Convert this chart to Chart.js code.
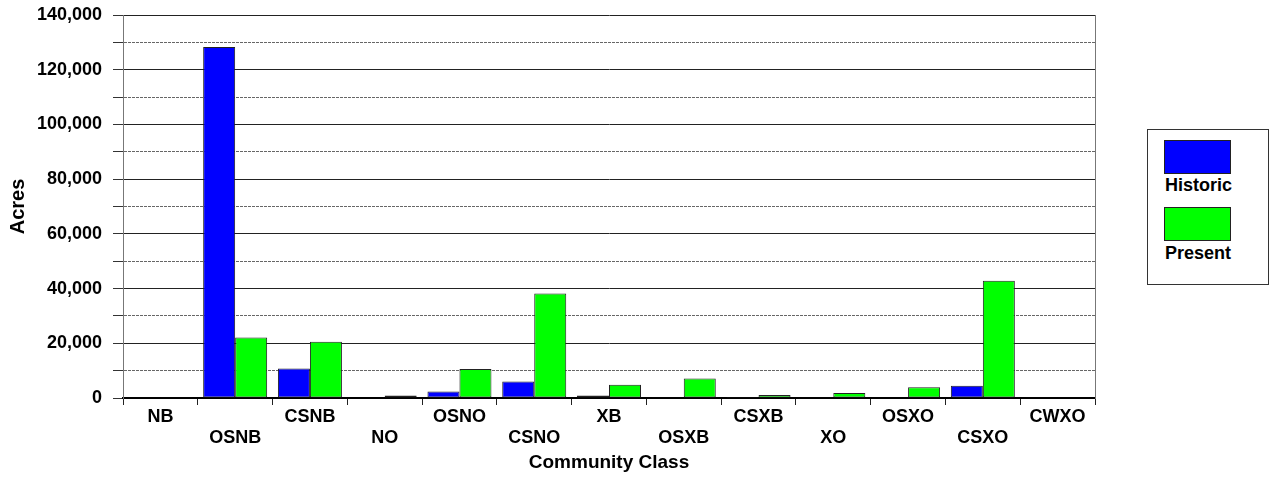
<!DOCTYPE html>
<html>
<head>
<meta charset="utf-8">
<script src="https://cdn.jsdelivr.net/npm/chart.js@4/dist/chart.umd.min.js"></script>
<style>
  html, body { margin: 0; padding: 0; background: #fff; }
  #wrap { position: absolute; left: 0; top: 0; width: 1272px; height: 480px; }
  #legend {
    position: absolute; left: 1147px; top: 129px; width: 120px; height: 154px;
    border: 1px solid #333; background: #fff;
    font: bold 18px "Liberation Sans", Arial, sans-serif; color: #000;
  }
  #legend .sw { position: absolute; left: 16px; width: 65px; height: 32px; border: 1px solid #222; }
  #legend .lb { position: absolute; left: 17px; line-height: 20px; }
</style>
</head>
<body>
<div id="wrap"><canvas id="chart"></canvas></div>
<div id="legend"></div>
<script>
const categories = ['NB', 'OSNB', 'CSNB', 'NO', 'OSNO', 'CSNO', 'XB', 'OSXB', 'CSXB', 'XO', 'OSXO', 'CSXO', 'CWXO'];
const historic = [250, 128300, 10800, 200, 2400, 6000, 900, 100, 400, 100, 150, 4500, 100];
const present = [250, 22100, 20600, 900, 10600, 38200, 4800, 7100, 1100, 1800, 3900, 42900, 100];
const seriesNames = ['Historic', 'Present'];
const seriesColors = ['#0000ff', '#00ff00'];

const font = '"Liberation Sans", Arial, sans-serif';

// alternate labels on two rows like the original
const labels = categories.map((c, i) => (i % 2 ? ['', c] : [c, '']));

const chart = new Chart(document.getElementById('chart'), {
    type: 'bar',
    data: {
        labels: labels,
        datasets: [historic, present].map((vals, i) => ({
            label: seriesNames[i],
            data: vals,
            backgroundColor: seriesColors[i],
            borderColor: '#222',
            borderWidth: 1,
            borderSkipped: false,
            barPercentage: 1,
            categoryPercentage: 0.856,
        }))
    },
    options: {
        responsive: true,
        maintainAspectRatio: false,
        animation: false,
        layout: { padding: { left: 0, top: 15, right: 177, bottom: 0 } },
        plugins: {
            legend: { display: false },
            tooltip: { enabled: false },
        },
        scales: {
            x: {
                grid: {
                    offset: true,
                    drawOnChartArea: false,
                    drawTicks: true,
                    tickLength: 7,
                    tickColor: '#222',
                },
                border: { color: '#000', width: 2 },
                ticks: {
                    color: '#000',
                    padding: 1,
                    maxRotation: 0,
                    autoSkip: false,
                    font: { family: font, size: 18, weight: 'bold', lineHeight: 1.2 },
                },
                title: {
                    display: true,
                    text: 'Community Class',
                    color: '#000',
                    padding: { top: 0, bottom: 6 },
                    font: { family: font, size: 19, weight: 'bold', lineHeight: 1.2 },
                },
                afterFit: (scale) => { scale.height = 82; },
            },
            y: {
                min: 0,
                max: 140000,
                ticks: {
                    stepSize: 10000,
                    autoSkip: false,
                    color: '#000',
                    padding: 11,
                    font: { family: font, size: 18, weight: 'bold' },
                    callback: (v) => (v % 20000 === 0 ? v.toLocaleString('en-US') : ''),
                },
                grid: {
                    color: (ctx) => (ctx.tick && ctx.tick.value % 20000 ? '#666' : '#222'),
                    tickColor: '#333',
                    tickLength: 10,
                },
                border: {
                    color: '#777',
                    dash: (ctx) => (ctx.tick && ctx.tick.value % 20000 ? [3, 1] : []),
                },
                title: {
                    display: true,
                    text: 'Acres',
                    color: '#000',
                    padding: { top: 6, bottom: 0 },
                    font: { family: font, size: 20, weight: 'bold', lineHeight: 1.2 },
                },
                afterFit: (scale) => {
                    scale.width = 123;
                    scale.paddingTop = 0;
                    scale.paddingBottom = 0;
                },
            },
            yRight: {
                position: 'right',
                min: 0,
                max: 140000,
                ticks: { display: false },
                grid: { display: false, drawTicks: false },
                border: { color: '#777', width: 1 },
                afterFit: (scale) => { scale.width = 0; },
            }
        }
    }
});

// legend box built from the series
const legend = document.getElementById('legend');
const swTops = [10, 77];
const lbTops = [45, 113];
seriesNames.forEach((name, i) => {
    const sw = document.createElement('div');
    sw.className = 'sw';
    sw.style.top = swTops[i] + 'px';
    sw.style.background = seriesColors[i];
    legend.appendChild(sw);
    const lb = document.createElement('div');
    lb.className = 'lb';
    lb.style.top = lbTops[i] + 'px';
    lb.textContent = name;
    legend.appendChild(lb);
});
</script>
</body>
</html>
